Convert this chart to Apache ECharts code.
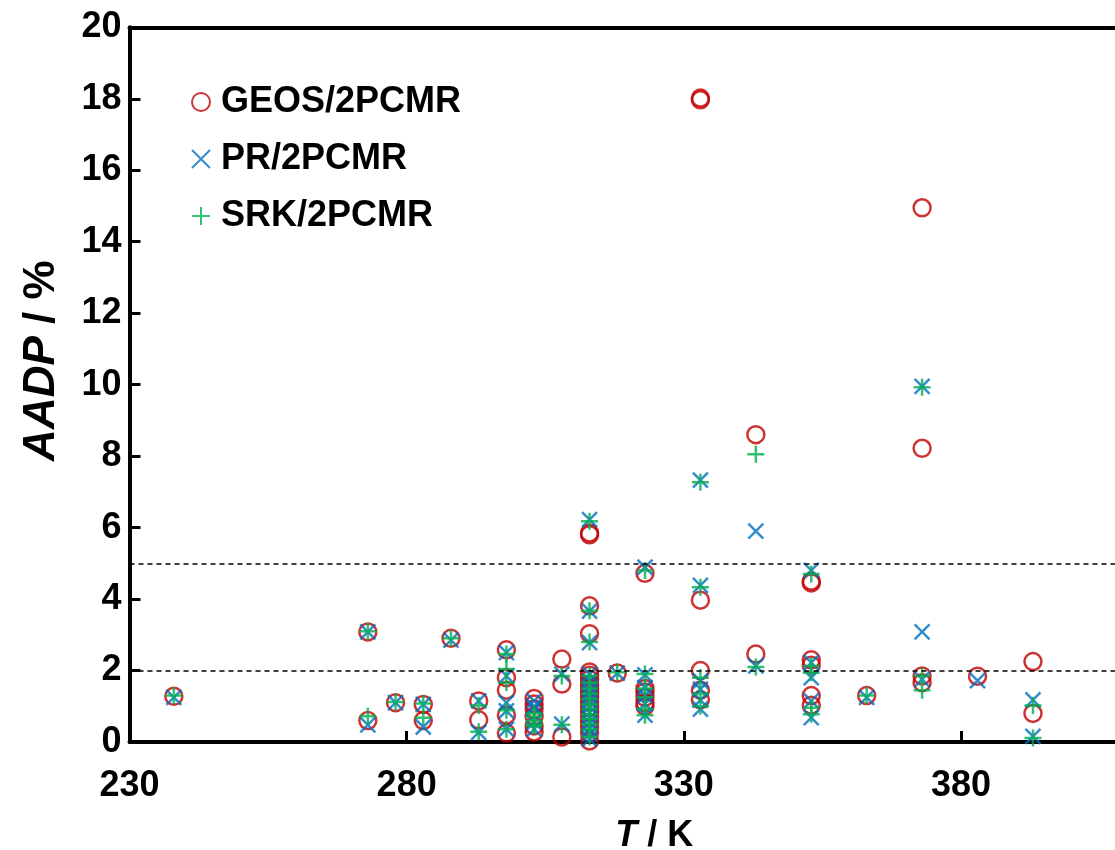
<!DOCTYPE html>
<html>
<head>
<meta charset="utf-8">
<script src="https://cdn.jsdelivr.net/npm/echarts@6/dist/echarts.min.js"></script>
<style>
  html, body { margin: 0; padding: 0; background: #fff; }
  #chart { width: 1115px; height: 850px; }
</style>
</head>
<body>
<div id="chart"></div>
<script>
// Axis ticks
const xTicks = [230, 280, 330, 380];
const yTicks = [0, 2, 4, 6, 8, 10, 12, 14, 16, 18, 20];
const thresholds = [2, 5];

// Series names
const seriesNames = ['GEOS/2PCMR', 'PR/2PCMR', 'SRK/2PCMR'];

// [T / K, AADP / %] for each model
const geos = [
  [238, 1.28],
  [273, 3.08], [273, 0.60],
  [278, 1.10],
  [283, 1.05], [283, 0.60],
  [288, 2.90],
  [293, 1.15], [293, 0.62],
  [298, 2.58], [298, 1.80], [298, 1.45], [298, 0.75], [298, 0.25],
  [303, 1.22], [303, 1.06], [303, 0.92], [303, 0.72], [303, 0.45], [303, 0.28],
  [308, 2.32], [308, 1.62], [308, 0.14],
  [313, 5.80], [313, 5.85], [313, 3.81], [313, 3.03], [313, 1.96], [313, 1.87], [313, 1.75],
  [313, 1.62], [313, 1.50], [313, 1.38], [313, 1.25], [313, 1.12], [313, 0.98], [313, 0.85],
  [313, 0.70], [313, 0.55], [313, 0.40], [313, 0.25], [313, 0.03],
  [318, 1.93],
  [323, 4.72], [323, 1.50], [323, 1.40], [323, 1.25], [323, 1.10], [323, 1.00],
  [333, 18.02], [333, 17.97], [333, 3.97], [333, 2.00], [333, 1.45], [333, 1.18],
  [343, 8.60], [343, 2.46],
  [353, 4.45], [353, 4.50], [353, 2.30], [353, 2.15], [353, 1.30], [353, 1.03],
  [363, 1.30],
  [373, 14.95], [373, 8.22], [373, 1.85], [373, 1.66],
  [383, 1.84],
  [393, 2.25], [393, 0.80]
];

const pr = [
  [238, 1.25],
  [273, 3.08], [273, 0.48],
  [278, 1.10],
  [283, 1.05], [283, 0.42],
  [288, 2.85],
  [293, 1.15], [293, 0.27],
  [298, 2.50], [298, 1.85], [298, 1.10], [298, 0.87], [298, 0.36],
  [303, 1.15], [303, 1.00], [303, 0.95], [303, 0.55], [303, 0.36],
  [308, 1.90], [308, 0.50],
  [313, 6.22], [313, 3.66], [313, 2.78], [313, 1.90], [313, 1.72], [313, 1.55], [313, 1.40],
  [313, 1.28], [313, 1.12], [313, 0.98], [313, 0.82], [313, 0.68], [313, 0.52], [313, 0.38],
  [313, 0.22], [313, 0.08],
  [318, 1.93],
  [323, 4.89], [323, 1.88], [323, 1.52], [323, 1.30], [323, 1.07], [323, 0.75],
  [333, 7.33], [333, 4.38], [333, 1.71], [333, 1.48], [333, 1.17], [333, 0.92],
  [343, 5.90], [343, 2.13],
  [353, 4.80], [353, 2.22], [353, 1.80], [353, 1.15], [353, 0.68],
  [363, 1.25],
  [373, 9.95], [373, 3.08], [373, 1.75],
  [383, 1.72],
  [393, 1.18], [393, 0.16]
];

const srk = [
  [238, 1.30],
  [273, 3.10], [273, 0.72],
  [278, 1.12],
  [283, 1.08], [283, 0.68],
  [288, 2.90],
  [293, 1.02], [293, 0.29],
  [298, 2.46], [298, 2.04], [298, 1.66], [298, 0.89], [298, 0.36],
  [303, 0.80], [303, 0.70], [303, 0.59], [303, 0.48], [303, 0.45],
  [308, 1.85], [308, 0.48],
  [313, 6.18], [313, 3.67], [313, 2.80], [313, 1.85], [313, 1.66], [313, 1.50], [313, 1.35],
  [313, 1.20], [313, 1.05], [313, 0.92], [313, 0.78], [313, 0.65], [313, 0.50], [313, 0.35],
  [313, 0.15],
  [318, 1.95],
  [323, 4.80], [323, 1.90], [323, 1.50], [323, 1.25], [323, 0.92], [323, 0.75],
  [333, 7.27], [333, 4.33], [333, 1.80], [333, 1.34], [333, 1.00],
  [343, 8.05], [343, 2.10],
  [353, 4.70], [353, 2.13], [353, 1.94], [353, 0.96], [353, 0.78],
  [363, 1.30],
  [373, 9.93], [373, 1.85], [373, 1.45],
  [393, 1.02], [393, 0.11]
];

const RED = '#C00000';
const BLUE = '#0070C0';
const GREEN = '#00B050';
const FONT = '"Liberation Sans", Arial, sans-serif';

// Stroked marker shapes
const CROSS_X = 'path://M0,0 L10,10 M10,0 L0,10';
const CROSS_PLUS = 'path://M5,0 L5,10 M0,5 L10,5';

const chart = echarts.init(document.getElementById('chart'), null, { renderer: 'canvas' });

const axisLineStyle = { color: '#000', width: 4 };

chart.setOption({
  animation: false,
  backgroundColor: '#fff',
  textStyle: { fontFamily: FONT },
  grid: { left: 129.5, right: 0, top: 27.3, bottom: 108, containLabel: false, outerBoundsMode: 'none' },
  legend: {
    orient: 'vertical',
    left: 186,
    top: 79,
    itemGap: 21,
    itemWidth: 18,
    itemHeight: 18,
    data: seriesNames,
    textStyle: { fontFamily: FONT, fontSize: 36, fontWeight: 'bold', color: '#000', padding: [0, 0, 0, 6] }
  },
  xAxis: [{
    type: 'value',
    position: 'bottom',
    min: 230,
    max: 407.8,
    interval: 50,
    name: '{i|T} / K',
    nameLocation: 'middle',
    nameGap: 76,
    nameTextStyle: {
      fontFamily: FONT, fontSize: 36, fontWeight: 'bold', color: '#000',
      padding: [0, 0, 0, 64],
      rich: { i: { fontFamily: FONT, fontSize: 36, fontWeight: 'bold', fontStyle: 'italic', color: '#000' } }
    },
    axisLine: { show: true, onZero: false, lineStyle: axisLineStyle },
    axisTick: { show: true, inside: true, length: 11, customValues: xTicks, lineStyle: { color: '#000', width: 3 } },
    axisLabel: { customValues: xTicks, margin: 26, fontFamily: FONT, fontSize: 36, fontWeight: 'bold', color: '#000' },
    splitLine: { show: false }
  }, {
    type: 'value',
    position: 'top',
    min: 230,
    max: 407.8,
    axisLine: { show: true, onZero: false, lineStyle: axisLineStyle },
    axisTick: { show: false },
    axisLabel: { show: false },
    splitLine: { show: false }
  }],
  yAxis: {
    type: 'value',
    min: 0,
    max: 20,
    interval: 2,
    name: '{i|AADP} / %',
    nameLocation: 'middle',
    nameGap: 66,
    nameTextStyle: {
      fontFamily: FONT, fontSize: 44, fontWeight: 'bold', color: '#000',
      padding: [0, 0, 0, 48],
      rich: { i: { fontFamily: FONT, fontSize: 44, fontWeight: 'bold', fontStyle: 'italic', color: '#000' } }
    },
    axisLine: { show: true, onZero: false, lineStyle: axisLineStyle },
    axisTick: { show: true, inside: true, length: 11, lineStyle: { color: '#000', width: 3 } },
    axisLabel: { margin: 8, fontFamily: FONT, fontSize: 36, fontWeight: 'bold', color: '#000' },
    splitLine: { show: false }
  },
  series: [{
    name: seriesNames[0],
    type: 'scatter',
    data: geos,
    symbol: 'circle',
    symbolSize: 17,
    itemStyle: { color: 'rgba(0,0,0,0)', borderColor: RED, borderWidth: 2.5 },
    emphasis: { disabled: true },
    markLine: {
      silent: true,
      symbol: 'none',
      label: { show: false },
      lineStyle: { type: [5, 4], color: '#000', width: 1.5 },
      data: thresholds.map(v => ({ yAxis: v }))
    }
  }, {
    name: seriesNames[1],
    type: 'scatter',
    data: pr,
    symbol: CROSS_X,
    symbolSize: 15,
    itemStyle: { color: BLUE, borderColor: BLUE, borderWidth: 2.5 },
    emphasis: { disabled: true }
  }, {
    name: seriesNames[2],
    type: 'scatter',
    data: srk,
    symbol: CROSS_PLUS,
    symbolSize: 17,
    itemStyle: { color: GREEN, borderColor: GREEN, borderWidth: 2.5 },
    emphasis: { disabled: true }
  }]
});
</script>
</body>
</html>
